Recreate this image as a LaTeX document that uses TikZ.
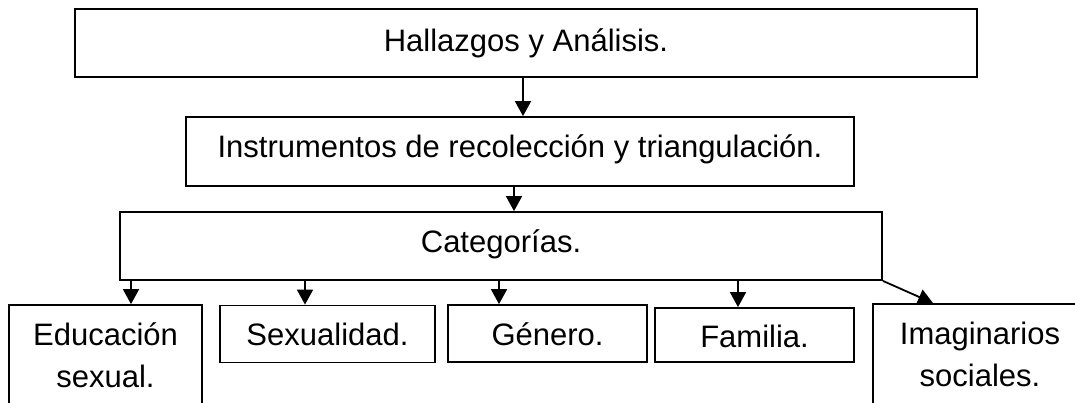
\documentclass[tikz,border=0pt]{standalone}
\usepackage{fontspec}
\setmainfont{Liberation Sans}
\usetikzlibrary{arrows.meta}
\begin{document}
\begin{tikzpicture}[x=1pt,y=-1pt,
  box/.style={draw=black,line width=1.8pt,inner sep=0pt,align=center,
    font=\fontsize{31}{42}\selectfont},
  shift/.style={text height=14pt+#1pt, text depth=14pt-#1pt},
  arr/.style={line width=1.8pt,-{Triangle[width=16pt,length=15pt]}}]
\useasboundingbox (0,0) rectangle (1075,403);
\clip (0,0) rectangle (1075,403);
\node[box,shift=9,minimum width=902,minimum height=68] (top) at (526,43) {Hallazgos y Análisis.};
\node[box,shift=6.5,minimum width=668,minimum height=69] (inst) at (520,151.5) {Instrumentos de recolección y triangulación.};
\node[box,shift=6,minimum width=762,minimum height=68] (cat) at (501,246) {Categorías.};
\node[box,minimum width=193,minimum height=100] (edu) at (105.5,355) {Educación\\sexual.};
\node[box,shift=11.5,minimum width=215,minimum height=57] (sex) at (327.5,334) {Sexualidad.};
\node[box,shift=11.5,minimum width=199,minimum height=57] (gen) at (547.5,333.5) {Género.};
\node[box,shift=12,minimum width=199,minimum height=54] (fam) at (754.5,335) {Familia.};
\node[box,minimum width=214,minimum height=100] (ima) at (980,354) {Imaginarios\\sociales.};
\draw[arr] (523,0 |- top.south) -- (523,0 |- inst.north);
\draw[arr] (514,0 |- inst.south) -- (514,0 |- cat.north);
\draw[arr] (131,0 |- cat.south) -- (131,0 |- edu.north);
\draw[arr] (305,0 |- cat.south) -- (305,0 |- sex.north);
\draw[arr] (499,0 |- cat.south) -- (499,0 |- gen.north);
\draw[arr] (738,0 |- cat.south) -- (738,0 |- fam.north);
\draw[arr] (cat.south east) -- (933,0 |- ima.north);
\end{tikzpicture}
\end{document}
